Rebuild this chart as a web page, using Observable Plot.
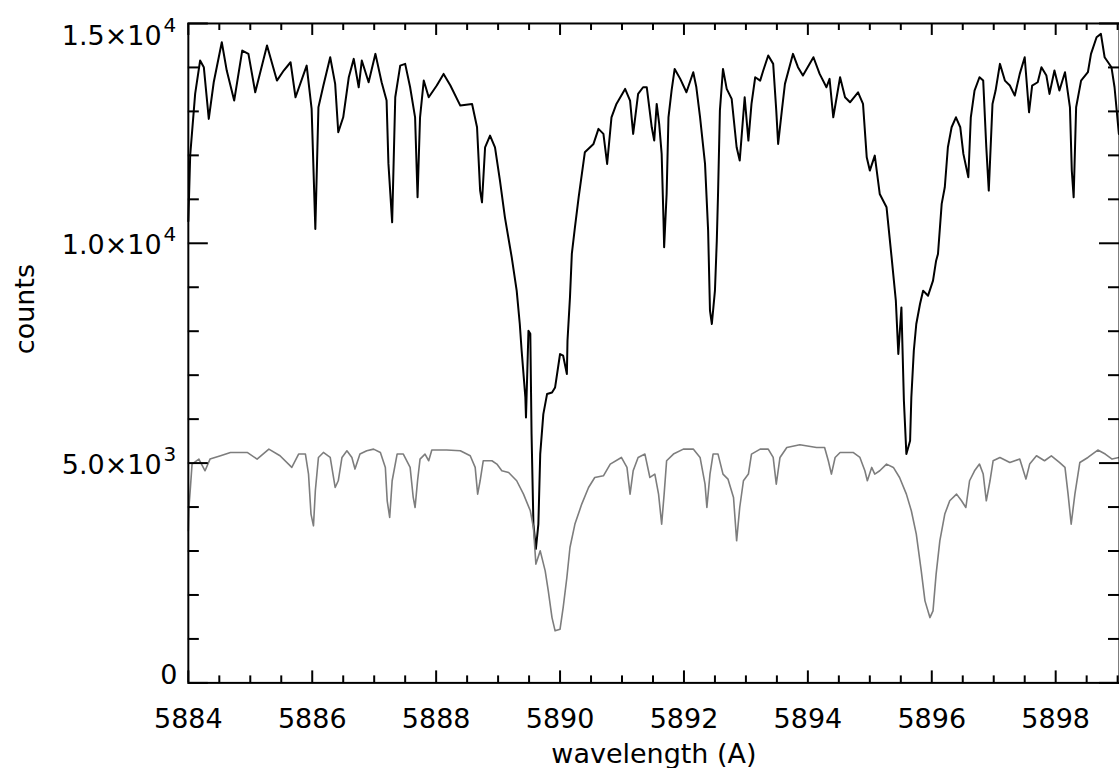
<!DOCTYPE html>
<html>
<head>
<meta charset="utf-8">
<script src="https://cdn.jsdelivr.net/npm/d3@7"></script>
<script src="https://cdn.jsdelivr.net/npm/@observablehq/plot@0.6"></script>
<style>
  html, body { margin: 0; padding: 0; background: #fff; overflow: hidden; }
  #chart { width: 1119px; height: 769px; overflow: hidden; }
</style>
</head>
<body>
<div id="chart"></div>
<script>
// ---- Data ----
const blackWl = [5884.00,5884.03,5884.11,5884.19,5884.25,5884.33,5884.41,5884.54,5884.62,5884.74,5884.87,5884.97,5885.08,5885.27,5885.43,5885.54,5885.65,5885.73,5885.91,5885.99,5886.05,5886.10,5886.18,5886.29,5886.37,5886.42,5886.50,5886.59,5886.67,5886.75,5886.80,5886.91,5887.02,5887.12,5887.20,5887.23,5887.29,5887.34,5887.42,5887.50,5887.58,5887.66,5887.70,5887.74,5887.80,5887.88,5888.01,5888.12,5888.23,5888.39,5888.58,5888.66,5888.71,5888.74,5888.79,5888.87,5888.95,5889.03,5889.11,5889.22,5889.30,5889.35,5889.38,5889.44,5889.45,5889.49,5889.52,5889.54,5889.57,5889.61,5889.65,5889.68,5889.73,5889.79,5889.87,5889.92,5890.00,5890.05,5890.11,5890.12,5890.16,5890.19,5890.24,5890.30,5890.40,5890.54,5890.62,5890.70,5890.76,5890.83,5890.91,5891.05,5891.13,5891.18,5891.26,5891.34,5891.40,5891.48,5891.52,5891.56,5891.60,5891.64,5891.67,5891.68,5891.72,5891.75,5891.80,5891.85,5891.94,5892.04,5892.15,5892.20,5892.26,5892.34,5892.39,5892.42,5892.45,5892.50,5892.53,5892.55,5892.58,5892.63,5892.69,5892.77,5892.85,5892.90,5892.98,5893.04,5893.09,5893.15,5893.23,5893.28,5893.36,5893.44,5893.49,5893.52,5893.58,5893.63,5893.76,5893.84,5893.92,5894.09,5894.19,5894.30,5894.35,5894.41,5894.52,5894.60,5894.68,5894.81,5894.89,5894.95,5895.00,5895.08,5895.16,5895.27,5895.35,5895.42,5895.46,5895.51,5895.55,5895.59,5895.65,5895.67,5895.71,5895.75,5895.81,5895.86,5895.94,5896.02,5896.07,5896.10,5896.16,5896.21,5896.26,5896.32,5896.39,5896.46,5896.51,5896.59,5896.63,5896.69,5896.77,5896.83,5896.88,5896.92,5896.98,5897.03,5897.10,5897.18,5897.26,5897.34,5897.42,5897.50,5897.57,5897.62,5897.71,5897.77,5897.85,5897.90,5897.98,5898.06,5898.15,5898.23,5898.26,5898.29,5898.33,5898.41,5898.52,5898.57,5898.66,5898.73,5898.79,5898.90,5898.95,5899.02];
const blackCounts = [10500,12000,13400,14157,14005,12830,13663,14573,13929,13246,14384,14309,13435,14498,13701,13929,14118,13322,14042,13057,10326,13094,13588,14232,13626,12525,12866,13777,14195,13549,14157,13663,14309,13663,13246,11806,10477,13322,14042,14081,13549,12866,11045,12866,13701,13322,13588,13853,13588,13132,13170,12639,11198,10931,12184,12450,12184,11426,10590,9680,8922,8164,7556,6493,6038,8011,7943,5660,3612,3050,3612,5205,6115,6570,6607,6721,7481,7442,7026,7784,8770,9757,10363,11045,12070,12260,12602,12488,11806,12866,13170,13512,13246,12488,13398,13549,13549,12639,12336,13170,12715,12033,10515,9908,11122,12866,13474,13967,13740,13435,13891,13549,12866,11806,10287,8467,8164,8922,10060,11122,13019,13967,13512,13284,12184,11881,13322,12336,13170,13777,13701,13929,14271,14081,13019,12260,13019,13626,14309,14005,13815,14232,13853,13549,13740,12866,13777,13322,13208,13435,13170,11957,11654,11995,11122,10818,9700,8694,7481,8542,6418,5205,5508,6493,7556,8164,8619,8922,8808,9150,9605,9757,10895,11274,12184,12639,12866,12639,12033,11502,12866,13474,13777,13701,12184,11198,13170,13474,14081,13701,13588,13360,13853,14232,12980,13588,13663,14005,13815,13398,13929,13474,13891,13094,11654,11045,13094,13701,13891,14309,14687,14764,14232,14005,13549,12488];

const grayWl = [5884.00,5884.01,5884.03,5884.06,5884.17,5884.27,5884.35,5884.52,5884.68,5884.95,5885.11,5885.30,5885.48,5885.67,5885.78,5885.89,5885.94,5885.98,5886.02,5886.05,5886.10,5886.18,5886.29,5886.37,5886.42,5886.48,5886.56,5886.64,5886.69,5886.77,5886.88,5886.99,5887.10,5887.18,5887.21,5887.25,5887.29,5887.37,5887.47,5887.58,5887.63,5887.66,5887.70,5887.74,5887.82,5887.88,5887.93,5888.17,5888.39,5888.55,5888.63,5888.67,5888.71,5888.76,5888.90,5888.98,5889.06,5889.17,5889.30,5889.41,5889.52,5889.57,5889.61,5889.68,5889.76,5889.81,5889.87,5889.92,5890.00,5890.05,5890.11,5890.16,5890.24,5890.35,5890.46,5890.56,5890.70,5890.81,5890.99,5891.08,5891.13,5891.18,5891.26,5891.37,5891.45,5891.53,5891.59,5891.64,5891.68,5891.72,5891.83,5891.99,5892.15,5892.26,5892.34,5892.37,5892.42,5892.47,5892.55,5892.63,5892.71,5892.80,5892.85,5892.90,5892.96,5893.04,5893.09,5893.23,5893.36,5893.44,5893.49,5893.55,5893.66,5893.87,5894.14,5894.27,5894.33,5894.38,5894.44,5894.52,5894.73,5894.84,5894.92,5894.96,5895.03,5895.08,5895.16,5895.27,5895.38,5895.48,5895.59,5895.67,5895.75,5895.83,5895.89,5895.97,5896.02,5896.07,5896.13,5896.21,5896.29,5896.40,5896.48,5896.55,5896.61,5896.69,5896.77,5896.83,5896.88,5896.94,5896.99,5897.10,5897.26,5897.42,5897.52,5897.58,5897.69,5897.82,5897.93,5898.06,5898.15,5898.20,5898.25,5898.31,5898.39,5898.52,5898.68,5898.80,5898.91,5899.02];
const grayCounts = [3459,4000,4370,4977,5091,4825,5091,5166,5242,5242,5091,5318,5166,4901,5205,5205,4750,3840,3573,4370,5128,5242,5128,4445,4598,5128,5280,5128,4864,5205,5280,5318,5242,4901,4142,3763,4598,5205,5205,4901,4218,3990,4598,5091,5205,5053,5296,5296,5280,5166,4901,4294,4598,5053,5053,4977,4825,4787,4598,4294,3915,3535,2702,3004,2549,2094,1486,1184,1222,1714,2397,3080,3612,4067,4445,4673,4711,4977,5128,4901,4294,4825,5128,5205,4673,4750,4294,3612,4294,5053,5205,5318,5318,5128,4522,3990,4750,5205,5205,4750,4636,4218,3232,3990,4598,4750,5205,5318,5318,5128,4522,5128,5356,5417,5356,5356,5053,4750,5128,5242,5242,5128,4825,4598,4901,4750,4825,4977,4901,4673,4294,3915,3384,2549,1866,1486,1639,2473,3232,3840,4142,4294,4142,3990,4598,4825,4977,4750,4142,4598,5053,5128,5014,5091,4636,4977,5166,5053,5166,5014,4901,4294,3612,4294,5014,5128,5296,5205,5091,5128];

const xMajorTicks = [5884, 5886, 5888, 5890, 5892, 5894, 5896, 5898];
const xTickLabels = ["5884", "5886", "5888", "5890", "5892", "5894", "5896", "5898"];
const yMajorTicks = [0, 5000, 10000, 15000];
const yTickLabels = ["0", "5.0×10^3", "1.0×10^4", "1.5×10^4"];
const xTitle = "wavelength (A)";
const yTitle = "counts";

// ---- Build ----
const black = blackWl.map((w, i) => ({w, c: blackCounts[i]}));
const gray = grayWl.map((w, i) => ({w, c: grayCounts[i]}));
const xMinorTicks = d3.range(5884, 5899.01, 0.5).filter(v => !xMajorTicks.includes(v));
const yMinorTicks = d3.range(0, 15001, 1000).filter(v => !yMajorTicks.includes(v));
const xLab = xMajorTicks.map((v, i) => ({v, t: xTickLabels[i]}));
const yLab = yMajorTicks.map((v, i) => ({v, t: yTickLabels[i]}));

const W = 1120, H = 769, ML = 188, MR = 0, MT = 23, MB = 86;
const innerW = W - ML - MR, innerH = H - MT - MB;
const xDom = [5884, 5899.03], yDom = [0, 15000];
const xPerPx = (xDom[1] - xDom[0]) / innerW;   // data units per pixel
const yPerPx = (yDom[1] - yDom[0]) / innerH;
const font = "DejaVu Sans";
const tickStyle = {stroke: "#000", strokeWidth: 2};

const plot = Plot.plot({
  width: W, height: H,
  marginLeft: ML, marginRight: MR, marginTop: MT, marginBottom: MB,
  x: {domain: xDom, axis: null},
  y: {domain: yDom, axis: null},
  style: {fontFamily: font, fontSize: "27px", background: "#fff", color: "#000"},
  marks: [
    // spectra
    Plot.line(black, {x: "w", y: "c", stroke: "#000", strokeWidth: 2}),
    Plot.line(gray, {x: "w", y: "c", stroke: "#7d7d7d", strokeWidth: 1.6}),
    // frame
    Plot.frame({stroke: "#000", strokeWidth: 2}),
    // x ticks bottom & top (inward)
    Plot.ruleX(xMajorTicks, {x: d => d, y1: () => yDom[0], y2: () => yDom[0] + 12 * yPerPx, ...tickStyle}),
    Plot.ruleX(xMajorTicks, {x: d => d, y1: () => yDom[1] - 12 * yPerPx, y2: () => yDom[1], ...tickStyle}),
    Plot.ruleX(xMinorTicks, {x: d => d, y1: () => yDom[0], y2: () => yDom[0] + 7 * yPerPx, ...tickStyle}),
    Plot.ruleX(xMinorTicks, {x: d => d, y1: () => yDom[1] - 7 * yPerPx, y2: () => yDom[1], ...tickStyle}),
    // y ticks left & right (inward)
    Plot.ruleY(yMajorTicks, {y: d => d, x1: () => xDom[0], x2: () => xDom[0] + 20 * xPerPx, ...tickStyle}),
    Plot.ruleY(yMajorTicks, {y: d => d, x1: () => xDom[1] - 20 * xPerPx, x2: () => xDom[1], ...tickStyle}),
    Plot.ruleY(yMinorTicks, {y: d => d, x1: () => xDom[0], x2: () => xDom[0] + 11 * xPerPx, ...tickStyle}),
    Plot.ruleY(yMinorTicks, {y: d => d, x1: () => xDom[1] - 11 * xPerPx, x2: () => xDom[1], ...tickStyle}),
    // x tick labels
    Plot.text(xLab, {x: "v", text: "t", frameAnchor: "bottom", lineAnchor: "bottom", dy: 45, fill: "#000"}),
    // y tick labels
    Plot.text(yLab.filter(d => d.v === 0), {y: "v", text: "t", frameAnchor: "left", textAnchor: "end", lineAnchor: "bottom", dx: -11, dy: 1, fill: "#000"}),
    Plot.text(yLab.filter(d => d.v > 0 && d.v < 15000), {y: "v", text: "t", frameAnchor: "left", textAnchor: "end", lineAnchor: "bottom", dx: -12, dy: 11, fill: "#000"}),
    Plot.text(yLab.filter(d => d.v === 15000), {y: "v", text: "t", frameAnchor: "left", textAnchor: "end", lineAnchor: "bottom", dx: -12, dy: 22, fill: "#000"}),
    // axis titles
    Plot.text([xTitle], {text: d => d, frameAnchor: "bottom", lineAnchor: "bottom", dy: 80, fill: "#000"}),
    Plot.text([yTitle], {text: d => d, frameAnchor: "left", rotate: -90, dx: -163, dy: 1, fill: "#000"})
  ]
});

// superscript exponents (e.g. "1.0×10^4")
plot.querySelectorAll("text").forEach(t => {
  const s = t.textContent;
  if (s.includes("^")) {
    const [m, e] = s.split("^");
    while (t.firstChild) t.removeChild(t.firstChild);
    const ns = "http://www.w3.org/2000/svg";
    const a = document.createElementNS(ns, "tspan");
    a.textContent = m;
    const b = document.createElementNS(ns, "tspan");
    b.textContent = e;
    b.setAttribute("font-size", "20px");
    b.setAttribute("dy", "-13");
    b.setAttribute("dx", "2");
    t.appendChild(a);
    t.appendChild(b);
  }
});

document.getElementById("chart").appendChild(plot);
</script>
</body>
</html>
